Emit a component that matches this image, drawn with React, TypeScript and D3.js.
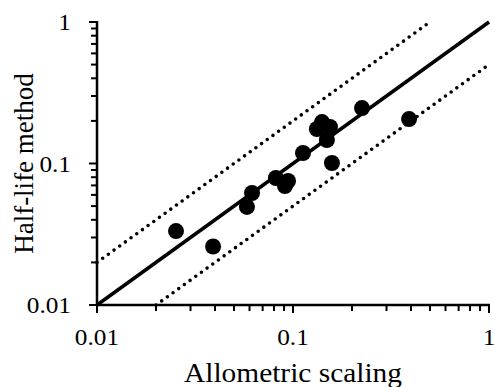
import React from "react";
import * as d3 from "d3";

const xValues = [0.0253, 0.0391, 0.0582, 0.0618, 0.0818, 0.0943, 0.091, 0.1125, 0.1406, 0.1324, 0.1545, 0.1489, 0.158, 0.2249, 0.391];
const yValues = [0.0333, 0.0259, 0.0493, 0.0619, 0.079, 0.0752, 0.0693, 0.1186, 0.1963, 0.1754, 0.1811, 0.1466, 0.1008, 0.2465, 0.206];
const tickLabels = ["0.01", "0.1", "1"];
const tickValues = [0.01, 0.1, 1];
const xTitle = "Allometric scaling";
const yTitle = "Half-life method";

const W = 495, H = 387;
const left = 97, right = 489, top = 22, bottom = 305;
const font = "'Liberation Serif', 'Times New Roman', serif";

export default function App() {
  const x = d3.scaleLog().domain([0.01, 1]).range([left, right]);
  const y = d3.scaleLog().domain([0.01, 1]).range([bottom, top]);
  const allTicks = x.ticks();
  const isMajor = (v: number) => tickValues.some((t) => Math.abs(t - v) / t < 1e-6);
  const line = d3.line<[number, number]>().x((d) => x(d[0])).y((d) => y(d[1]));

  return (
    <svg width={W} height={H} style={{ position: "absolute", left: 0, top: 0, background: "#fff" }}>
      <path d={line([[0.01, 0.01], [1, 1]]) || ""} stroke="#000" strokeWidth={3.5} fill="none" />
      <path d={line([[0.01, 0.02], [0.5, 1]]) || ""} stroke="#000" strokeWidth={3.6} fill="none" strokeDasharray="0 7" strokeLinecap="round" />
      <path d={line([[0.02, 0.01], [1, 0.5]]) || ""} stroke="#000" strokeWidth={3.6} fill="none" strokeDasharray="0 7" strokeLinecap="round" />
      {xValues.map((v, i) => (
        <circle key={i} cx={x(v)} cy={y(yValues[i])} r={8} fill="#000" />
      ))}
      <line x1={left} x2={left} y1={top - 1} y2={bottom} stroke="#000" strokeWidth={2.5} />
      <line x1={left} x2={right + 1} y1={bottom} y2={bottom} stroke="#000" strokeWidth={2.5} />
      {allTicks.map((v, i) => (
        <line key={"yt" + i} x1={left - (isMajor(v) ? 8 : 6)} x2={left} y1={y(v)} y2={y(v)} stroke="#000" strokeWidth={2} />
      ))}
      {allTicks.map((v, i) => (
        <line key={"xt" + i} x1={x(v)} x2={x(v)} y1={bottom} y2={bottom + (isMajor(v) ? 8 : 6)} stroke="#000" strokeWidth={2} />
      ))}
      {tickValues.map((v, i) => (
        <text key={"yl" + i} x={left - 26} y={y(v)} dy="0.35em" textAnchor="end" fontFamily={font} fontSize={23} fill="#000"
          transform={`translate(${left - 26},0) scale(1.1,1) translate(${-(left - 26)},0)`}>
          {tickLabels[i]}
        </text>
      ))}
      {tickValues.map((v, i) => (
        <text key={"xl" + i} x={x(v)} y={345} textAnchor="middle" fontFamily={font} fontSize={23} fill="#000"
          transform={`translate(${x(v)},0) scale(1.1,1) translate(${-x(v)},0)`}>
          {tickLabels[i]}
        </text>
      ))}
      <text x={(left + right) / 2} y={382} textAnchor="middle" fontFamily={font} fontSize={27} fill="#000"
        textLength={218} lengthAdjust="spacingAndGlyphs">
        {xTitle}
      </text>
      <text transform={`translate(33, ${(top + bottom) / 2}) rotate(-90)`} textAnchor="middle" fontFamily={font} fontSize={27} fill="#000">
        {yTitle}
      </text>
    </svg>
  );
}
